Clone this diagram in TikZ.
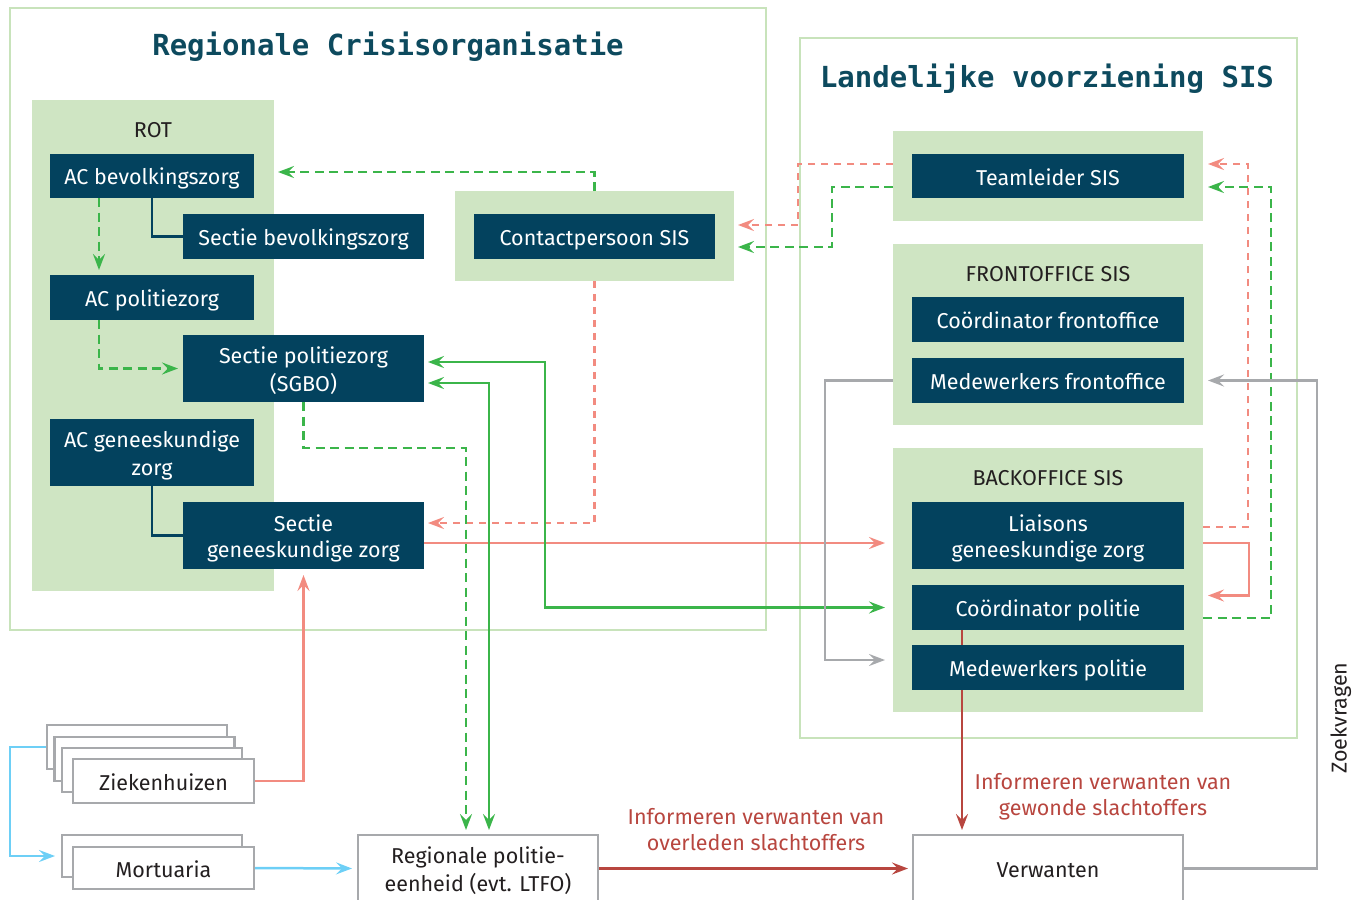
\documentclass[tikz,border=0pt]{standalone}
\usepackage{fontspec}
\setmainfont{Fira Sans}
\newfontfamily\titlefont{DejaVu Sans Mono}
\usetikzlibrary{arrows.meta,calc}
\definecolor{dkblue}{HTML}{03425E}
\definecolor{lgreen}{HTML}{CFE5C3}
\definecolor{bgreen}{HTML}{C8E3BB}
\definecolor{agreen}{HTML}{3BB54A}
\definecolor{salmon}{HTML}{F28B80}
\definecolor{dred}{HTML}{B8463F}
\definecolor{gry}{HTML}{A7A9AC}
\definecolor{lblue}{HTML}{6DCFF6}
\definecolor{ttl}{HTML}{0D4A5E}
\definecolor{txt}{HTML}{231F20}
\newcommand\st{\rule[-4pt]{0pt}{26pt}}
\pgfdeclarelayer{bg}
\pgfdeclarelayer{lines}
\pgfsetlayers{bg,lines,main}
\begin{document}
\begin{tikzpicture}[x=1pt,y=-1pt,
  every node/.style={inner sep=0pt, outer sep=0pt, font=\fontsize{21.5}{26}\selectfont, align=center},
  dk/.style={fill=dkblue, text=white},
  blk/.style={fill=lgreen},
  gbox/.style={fill=white, draw=gry, line width=2.5pt},
  frame/.style={draw=bgreen, line width=2.5pt},
  lbl/.style={text=txt},
  a/.style={-{Stealth[length=16pt,width=12pt,inset=6pt]}},
  aa/.style={{Stealth[length=16pt,width=12pt,inset=6pt]}-{Stealth[length=16pt,width=12pt,inset=6pt]}},
  gd/.style={draw=agreen, line width=2.4pt, dash pattern=on 9pt off 5.5pt},
  gs/.style={draw=agreen, line width=2.4pt},
  rd/.style={draw=salmon, line width=2.4pt, dash pattern=on 7pt off 6pt},
  rs/.style={draw=salmon, line width=2.4pt},
  drs/.style={draw=dred, line width=2.4pt},
  gr/.style={draw=gry, line width=2.5pt},
  bl/.style={draw=lblue, line width=2.5pt},
  dl/.style={draw=dkblue, line width=2.4pt}
]
\useasboundingbox (0,0) rectangle (1364,899);
\begin{pgfonlayer}{bg}
\draw[frame] (10,8) rectangle (766,630);
\draw[frame] (800,38) rectangle (1297,738);
\node[blk, minimum width=242, minimum height=491] (rot) at (153,345.5) {};
\node[blk, minimum width=279, minimum height=90] (cpb) at (594.5,236) {};
\node[blk, minimum width=310, minimum height=90] (tlb) at (1048,176) {};
\node[blk, minimum width=310, minimum height=181] (fob) at (1048,334.5) {};
\node[blk, minimum width=310, minimum height=264] (bob) at (1048,580) {};
\end{pgfonlayer}

\node[anchor=base, font=\titlefont\bfseries\fontsize{29}{30}\selectfont, text=ttl] (t1) at (388,56) {Regionale Crisisorganisatie};
\node[anchor=base, font=\titlefont\bfseries\fontsize{29}{30}\selectfont, text=ttl] (t2) at (1047,87) {Landelijke voorziening SIS};

\node[lbl] (rotl) at (153,128) {\st ROT};
\node[lbl] (fol) at (1048,272) {\st FRONTOFFICE SIS};
\node[lbl] (bol) at (1048,476) {\st BACKOFFICE SIS};

\node[dk, minimum width=204, minimum height=44] (acb) at (152,176) {\st AC bevolkingszorg};
\node[dk, minimum width=241, minimum height=45] (sbz) at (303.5,236.5) {\st Sectie bevolkingszorg};
\node[dk, minimum width=204, minimum height=45] (acp) at (152,297.5) {\st AC politiezorg};
\node[dk, minimum width=241, minimum height=67] (spz) at (303.5,368.5) {\st Sectie politiezorg\\\st (SGBO)};
\node[dk, minimum width=204, minimum height=67] (acg) at (152,452.5) {\st AC geneeskundige\\\st zorg};
\node[dk, minimum width=241, minimum height=67] (sgz) at (303.5,535.5) {\st Sectie\\\st geneeskundige zorg};
\node[dk, minimum width=241, minimum height=45] (cp) at (594.5,236.5) {\st Contactpersoon SIS};
\node[dk, minimum width=272, minimum height=44] (tl) at (1048,176) {\st Teamleider SIS};
\node[dk, minimum width=272, minimum height=45] (cof) at (1048,319.5) {\st Coördinator frontoffice};
\node[dk, minimum width=272, minimum height=45] (mwf) at (1048,380.5) {\st Medewerkers frontoffice};
\node[dk, minimum width=272, minimum height=67] (lia) at (1048,535.5) {\st Liaisons\\\st geneeskundige zorg};
\node[dk, minimum width=272, minimum height=45] (cop) at (1048,607.5) {\st Coördinator politie};
\node[dk, minimum width=272, minimum height=45] (mwp) at (1048,667.5) {\st Medewerkers politie};

\node[gbox, minimum width=180, minimum height=44] (zk4) at (137,747) {};
\node[gbox, minimum width=180, minimum height=44] (zk3) at (144.5,759) {};
\node[gbox, minimum width=180, minimum height=44] (zk2) at (152,770) {};
\node[gbox, minimum width=181, minimum height=44, text=txt] (zk) at (163.5,781) {\st Ziekenhuizen};
\node[gbox, minimum width=180, minimum height=42] (mo1) at (152,856) {};
\node[gbox, minimum width=181, minimum height=42, text=txt] (mo) at (163.5,868) {\st Mortuaria};
\node[gbox, minimum width=240, minimum height=67, text=txt] (rpe) at (478,868.5) {\st Regionale politie-\\\st eenheid (evt. LTFO)};
\node[gbox, minimum width=270, minimum height=67, text=txt] (vw) at (1048,868.5) {\st Verwanten};

\node[text=dred] (l1) at (756,828) {\st Informeren verwanten van\\\st overleden slachtoffers};
\node[text=dred] (l2) at (1103,794) {\st Informeren verwanten van\\\st gewonde slachtoffers};
\node[text=txt, rotate=90] (zv) at (1338,718) {\st Zoekvragen};

\begin{pgfonlayer}{lines}
% ROT internal
\draw[gd,a,shorten >=5pt] ([xshift=-53pt]acb.south) -- ([xshift=-53pt]acp.north);
\draw[dl] (acb.south) |- (sbz.west);
\draw[gd,a,shorten >=5pt] ([xshift=-53pt]acp.south) |- (spz.west);
\draw[dl] (acg.south) |- (sgz.west);
% contactpersoon
\coordinate (e5) at ($(rot.east |- acb.east)+(4,-4)$);
\draw[gd,a] (cpb.north) |- (e5);
\coordinate (e6) at ($(sgz.east)+(0,-12.5)$);
\draw[rd,a,shorten >=4pt] (cpb.south) |- (e6);
% sectie geneeskundige -> liaisons
\coordinate (s7) at ($(sgz.east)+(0,7.5)$);
\draw[rs,a,shorten >=8pt] (s7) -- (s7 -| bob.west);
% sectie politiezorg <-> coordinator politie
\coordinate (s8) at ($(spz.east)+(0,-6.5)$);
\draw[gs,aa,shorten <=4pt,shorten >=8pt] (s8) -- ++(121,0) |- (cop.west -| bob.west);
% sectie politiezorg <-> regionale politie
\coordinate (s9) at ($(spz.east)+(0,14.5)$);
\coordinate (e9) at ($(rpe.north)+(11,0)$);
\draw[gs,aa,shorten <=4pt,shorten >=5pt] (s9) -| (e9);
\coordinate (e10) at ($(rpe.north)+(-12,0)$);
\draw[gd,a,shorten >=5pt] (spz.south) -- ++(0,46) -| (e10);
% ziekenhuizen
\draw[rs,a,shorten >=6pt] (zk.east) -| (sgz.south);
\draw[bl,a,shorten >=7pt] (zk4.west) -- ++(-37,0) |- (mo1.west);
\draw[bl,a,shorten >=6pt] (mo.east) -- (rpe.west);
% verwanten
\draw[drs,a,shorten >=5pt] (rpe.east) -- (vw.west);
\coordinate (s15) at ($(cop.south)+(-86,0)$);
\draw[drs,a,shorten >=5pt] (s15) -- (s15 |- vw.north);
% right side
\coordinate (s16) at ($(bob.east |- lia.east)+(0,-8.5)$);
\coordinate (e16) at ($(tlb.east)+(0,-12)$);
\draw[rd,a,shorten >=5pt] (s16) -- ++(45,0) |- (e16);
\coordinate (s17) at ($(bob.east |- cop.east)+(0,10.5)$);
\coordinate (e17) at ($(tlb.east)+(0,11)$);
\draw[gd,a,shorten >=5pt] (s17) -- ++(68,0) |- (e17);
\coordinate (s18) at ($(bob.east |- lia.east)+(0,7.5)$);
\coordinate (e18) at ($(bob.east |- cop.east)+(0,-12)$);
\draw[rs,a,shorten >=5pt] (s18) -- ++(46,0) |- (e18);
% teamleider -> contactpersoon
\coordinate (s19) at ($(tlb.west)+(0,-12)$);
\coordinate (e19) at ($(cpb.east)+(0,-11)$);
\draw[rd,a,shorten >=4pt] (s19) -- ++(-95,0) |- (e19);
\coordinate (s20) at ($(tlb.west)+(0,11)$);
\coordinate (e20) at ($(cpb.east)+(0,11)$);
\draw[gd,a,shorten >=4pt] (s20) -- ++(-61,0) |- (e20);
% gray
\coordinate (s21) at (fob.west |- mwf.west);
\coordinate (e21) at ($(bob.west |- mwp.west)+(0,-7.5)$);
\draw[gr,a,shorten >=8pt] (s21) -- ++(-68,0) |- (e21);
\coordinate (e22) at (fob.east |- mwf.east);
\draw[gr,a,shorten >=5pt] (vw.east) -- ++(134,0) |- (e22);
\end{pgfonlayer}
\end{tikzpicture}
\end{document}
